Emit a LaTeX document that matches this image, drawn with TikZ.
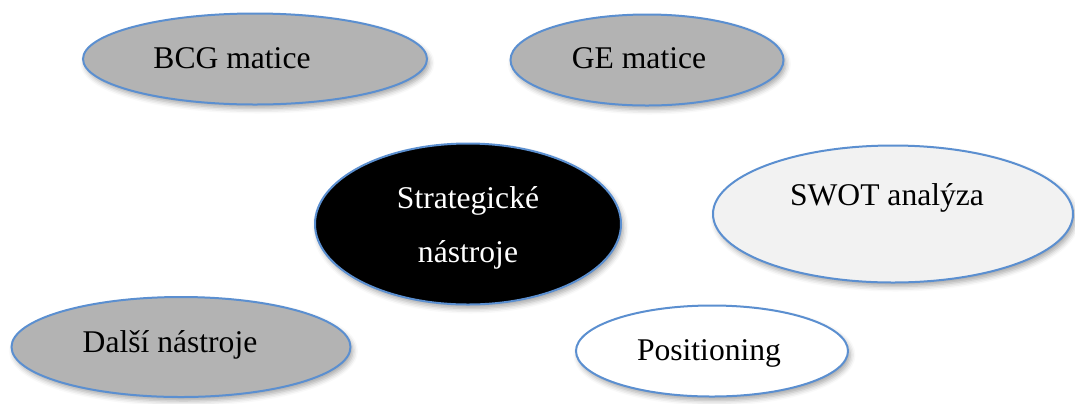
\documentclass[tikz,border=0pt]{standalone}
\usepackage{fontspec}
\setmainfont{Liberation Serif}
\usetikzlibrary{shapes.geometric,shadows.blur}
\definecolor{edgeblue}{HTML}{5B8FD0}
\definecolor{midgray}{HTML}{B3B3B3}
\definecolor{lightgray}{HTML}{F2F2F2}
\tikzset{
  bubble/.style={ellipse, draw=edgeblue, line width=1pt, inner sep=0pt,
    blur shadow={shadow xshift=1.2pt, shadow yshift=-2pt, shadow blur radius=2.5pt, shadow opacity=35}},
  lbl/.style={anchor=base, inner sep=0pt, font=\fontsize{15.8}{27}\selectfont, align=center},
}
\begin{document}
\begin{tikzpicture}[x=0.5pt,y=-0.5pt]
\useasboundingbox (0,0) rectangle (1075,403);
\node[bubble, fill=midgray, minimum width=344*0.5pt, minimum height=91*0.5pt] (bcg) at (255,59) {};
\node[bubble, fill=midgray, minimum width=273*0.5pt, minimum height=91*0.5pt] (ge) at (647,60) {};
\node[bubble, fill=black, minimum width=306*0.5pt, minimum height=161*0.5pt] (st) at (468,224) {};
\node[bubble, fill=lightgray, minimum width=360*0.5pt, minimum height=137*0.5pt] (swot) at (893,214) {};
\node[bubble, fill=midgray, minimum width=339*0.5pt, minimum height=100*0.5pt] (dal) at (181,347) {};
\node[bubble, fill=white, minimum width=272*0.5pt, minimum height=91*0.5pt] (pos) at (712,351) {};
\node[lbl] (bcgt) at (232,68) {BCG matice};
\node[lbl] (get) at (639,68) {GE matice};
\node[lbl, text=white] (stt) at (468,262) {Strategické\\nástroje};
\node[lbl] (swott) at (887,205) {SWOT analýza};
\node[lbl] (dalt) at (170,352) {Další nástroje};
\node[lbl] (post) at (709,360) {Positioning};
\end{tikzpicture}
\end{document}
